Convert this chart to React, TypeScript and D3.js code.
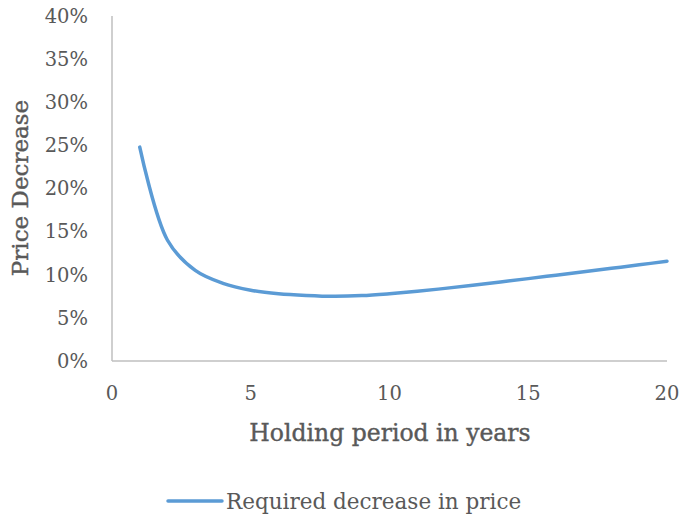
import React from "react";
import * as d3 from "d3";

const years = [1, 2, 3, 4, 5, 6, 7, 8, 9, 10, 11, 12, 13, 14, 15, 16, 17, 18, 19, 20];
const decrease = [0.248, 0.14, 0.105, 0.09, 0.082, 0.078, 0.076, 0.075, 0.0758, 0.078, 0.0808, 0.0842, 0.0878, 0.0916, 0.0955, 0.0995, 0.1035, 0.1075, 0.1115, 0.1157];
const xTicks = [0, 5, 10, 15, 20];
const yTicks = [0, 0.05, 0.1, 0.15, 0.2, 0.25, 0.3, 0.35, 0.4];
const seriesName = "Required decrease in price";
const xTitle = "Holding period in years";
const yTitle = "Price Decrease";

const W = 682, H = 518;
const font = "'DejaVu Serif', serif";
const textColor = "#595959";

export default function App() {
  const x = d3.scaleLinear().domain([0, 20]).range([112, 667]);
  const y = d3.scaleLinear().domain([0, 0.4]).range([361, 16]);
  const line = d3
    .line<number>()
    .x((_, i) => x(years[i]))
    .y((d) => y(d))
    .curve(d3.curveCatmullRom.alpha(0.5));
  return (
    <svg width={W} height={H} style={{ position: "absolute", left: 0, top: 0, background: "#fff" }}>
      <line x1={x(0)} x2={x(20)} y1={y(0)} y2={y(0)} stroke="#bfbfbf" strokeWidth={1.5} />
      <line x1={x(0)} x2={x(0)} y1={y(0)} y2={y(0.4)} stroke="#bfbfbf" strokeWidth={1.5} />
      {yTicks.map((t) => (
        <text key={t} x={88} y={y(t)} dy="0.35em" textAnchor="end" fontFamily={font} fontSize={19.5} fill={textColor}>
          {d3.format(".0%")(t)}
        </text>
      ))}
      {xTicks.map((t) => (
        <text key={t} x={x(t)} y={393} dy="0.35em" textAnchor="middle" fontFamily={font} fontSize={19.5} fill={textColor}>
          {t}
        </text>
      ))}
      <text x={390} y={433} dy="0.35em" textAnchor="middle" fontFamily={font} fontSize={23.5} fill={textColor} stroke={textColor} strokeWidth={0.4}>
        {xTitle}
      </text>
      <text transform={`translate(20,188) rotate(-90)`} dy="0.35em" textAnchor="middle" fontFamily={font} fontSize={23} fill={textColor} stroke={textColor} strokeWidth={0.4}>
        {yTitle}
      </text>
      <path d={line(decrease) || ""} fill="none" stroke="#5b9bd5" strokeWidth={3.5} strokeLinecap="round" />
      <line x1={168} x2={222} y1={501} y2={501} stroke="#5b9bd5" strokeWidth={3.5} strokeLinecap="round" />
      <text x={226} y={501} dy="0.35em" fontFamily={font} fontSize={21.5} fill={textColor}>
        {seriesName}
      </text>
    </svg>
  );
}
